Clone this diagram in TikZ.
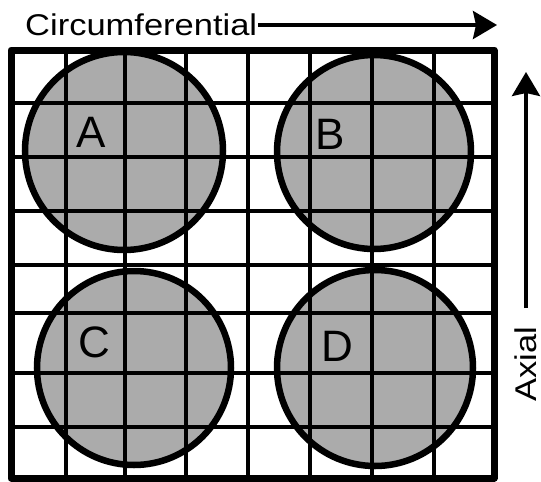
\documentclass[tikz,border=0pt]{standalone}
\usepackage{fontspec}
\setmainfont{Liberation Sans}
\usetikzlibrary{arrows.meta}

\begin{document}
\begin{tikzpicture}[x=1pt,y=-1pt,
  diskfill/.style={fill=black!33},
  ring/.style={line width=6.5pt},
  gridline/.style={line width=4.5pt},
  frameline/.style={line width=7pt,line join=round},
  axisarrow/.style={line width=3.5pt,-{Stealth[length=24pt,width=28pt,inset=3pt]}},
  axislabel/.style={inner sep=0pt,font=\fontsize{30}{30}\selectfont},
  spot/.style={inner sep=0pt,font=\fontsize{44}{44}\selectfont}]
\useasboundingbox (0,0) rectangle (541,482);
\fill[diskfill] (124,151) circle (99pt);
\fill[diskfill] (374,152) circle (97pt);
\fill[diskfill] (134,368) circle (97pt);
\fill[diskfill] (375,368) circle (98pt);
\foreach \x in {66,125,186,248,310,372,434}
  \draw[gridline] (\x,50) -- (\x,478);
\foreach \y in {103,157,211,265,313,373,427}
  \draw[gridline] (11,\y) -- (494,\y);
\draw[ring] (124,151) circle (99pt);
\draw[ring] (374,152) circle (97pt);
\draw[ring] (134,368) circle (97pt);
\draw[ring] (375,368) circle (98pt);
\draw[frameline] (11,50) rectangle (494,478);
\node[spot] (A) at (91,132) {A};
\node[spot] (B) at (330,134) {B};
\node[spot] (C) at (94,342) {C};
\node[spot] (D) at (337,346) {D};
\node[axislabel,anchor=base west] (circ) at (25,35) {\scalebox{1.15}[1]{Circumferential}};
\coordinate (cftail) at (258,25);
\coordinate (cftip) at (497,25);
\draw[axisarrow] (cftail) -- (cftip);
\node[axislabel,anchor=base west,rotate=90] (axial) at (536,402) {\scalebox{1.15}[1]{Axial}};
\coordinate (axtail) at (526,308);
\coordinate (axtip) at (526,72);
\draw[axisarrow] (axtail) -- (axtip);
\end{tikzpicture}
\end{document}
